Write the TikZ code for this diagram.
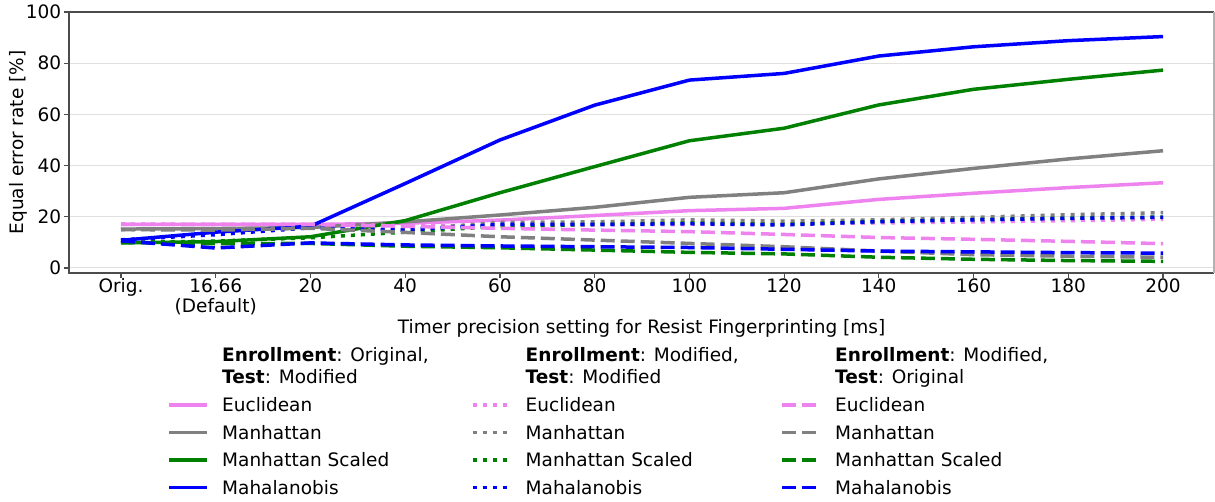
\documentclass[tikz,border=0pt]{standalone}
\usepackage{fontspec}
\setmainfont{DejaVu Sans}
\usetikzlibrary{positioning}

\definecolor{eucl}{HTML}{EE82EE}
\definecolor{manh}{HTML}{808080}
\definecolor{mscl}{HTML}{008000}
\definecolor{maha}{HTML}{0000FF}

\begin{document}
\begin{tikzpicture}[
    x=1pt, y=1pt,
    font=\fontsize{18.5}{22.2}\selectfont,
    series/.style={line width=3.5pt, line join=round},
    dotline/.style={series, dash pattern=on 4pt off 6pt},
    dashline/.style={series, dash pattern=on 14pt off 6pt},
    gridline/.style={draw=black!12, line width=1pt},
    spine/.style={draw=black!70, line width=1.4pt},
    tickmark/.style={draw=black!70, line width=1.2pt},
    ticklab/.style={inner sep=0pt, anchor=base},
    legtext/.style={inner sep=0pt, anchor=base west}
]
\useasboundingbox (0,0) rectangle (1215,502);
\fill[white] (0,0) rectangle (1215,502);

% Axes, in data coordinates
\begin{scope}[shift={(121pt,234pt)}, x=94.73pt, y=2.56pt]
  % grid
  \foreach \v in {0,20,...,100}
    \draw[gridline] (-0.55,\v) -- (11.54,\v);

  % Enrollment: Original, Test: Modified
  \draw[series, eucl] plot coordinates {(0,17) (1,17) (2,17) (3,17.5) (4,18.7) (5,20.5) (6,22.4) (7,23.3) (8,26.8) (9,29.2) (10,31.4) (11,33.3)};
  \draw[series, manh] plot coordinates {(0,15.2) (1,15.4) (2,15.8) (3,18) (4,20.7) (5,23.7) (6,27.6) (7,29.4) (8,34.8) (9,38.9) (10,42.6) (11,45.8)};
  \draw[series, mscl] plot coordinates {(0,9.8) (1,10.3) (2,12.2) (3,18.5) (4,29.4) (5,39.6) (6,49.7) (7,54.6) (8,63.7) (9,69.8) (10,73.7) (11,77.3)};
  \draw[series, maha] plot coordinates {(0,10.8) (1,14) (2,16.3) (3,33) (4,50) (5,63.6) (6,73.4) (7,76) (8,82.8) (9,86.4) (10,88.8) (11,90.4)};

  % Enrollment: Modified, Test: Modified
  \draw[dotline, eucl] plot coordinates {(0,17.2) (1,17) (2,17) (3,16.6) (4,16.4) (5,16.8) (6,17) (7,17.2) (8,17.6) (9,18) (10,18.5) (11,19)};
  \draw[dotline, manh] plot coordinates {(0,15) (1,15.2) (2,15.6) (3,15) (4,17.8) (5,18) (6,18.8) (7,18.3) (8,18.8) (9,19.8) (10,20.8) (11,21.6)};
  \draw[dotline, mscl] plot coordinates {(0,10) (1,10.5) (2,11.8) (3,14) (4,16.3) (5,17) (6,17.6) (7,17) (8,18.2) (9,18.9) (10,19.5) (11,19.9)};
  \draw[dotline, maha] plot coordinates {(0,11) (1,13) (2,15.7) (3,14.8) (4,17) (5,17) (6,17.3) (7,16.8) (8,18.1) (9,18.8) (10,19.4) (11,19.8)};

  % Enrollment: Modified, Test: Original
  \draw[dashline, eucl] plot coordinates {(0,17) (1,17) (2,17) (3,16.3) (4,15.5) (5,14.8) (6,14.2) (7,13.1) (8,11.9) (9,11.2) (10,10.4) (11,9.5)};
  \draw[dashline, manh] plot coordinates {(0,15) (1,14.8) (2,15.5) (3,13.9) (4,12.2) (5,10.9) (6,9.6) (7,8.3) (8,6.6) (9,5.2) (10,4.6) (11,4.2)};
  \draw[dashline, mscl] plot coordinates {(0,10) (1,9.5) (2,9.6) (3,8.5) (4,7.9) (5,7) (6,6.1) (7,5.5) (8,4.2) (9,3.4) (10,2.9) (11,2.6)};
  \draw[dashline, maha] plot coordinates {(0,10.6) (1,7.8) (2,9.8) (3,9) (4,8.6) (5,8.3) (6,8) (7,7.3) (8,6.6) (9,6.3) (10,6) (11,5.8)};

  % frame
  \draw[spine] (-0.55,100) -- (-0.55,-2) -- (11.54,-2);
  \draw[spine] (-0.55,100) -- (11.54,100);
  \draw[spine, draw=black!30] (11.54,100) -- (11.54,-2);

  % y ticks
  \foreach \v in {0,20,...,100} {
    \coordinate (yt\v) at (-0.55,\v);
    \draw[tickmark] (yt\v) -- ++(-5pt,0);
    \node[inner sep=0pt, anchor=east] (yl\v) at ([xshift=-7.5pt]yt\v) {\v};
  }

  % x ticks
  \foreach \lab [count=\i from 0] in {Orig.,16.66,20,40,60,80,100,120,140,160,180,200} {
    \coordinate (xt\i) at (\i,-2);
    \draw[tickmark] (xt\i) -- ++(0,-5pt);
    \node[ticklab] (xl\i) at ([yshift=-19.4pt]xt\i) {\lab};
  }
  \node[ticklab] (xdef) at ([yshift=-19.5pt]xl1.base) {(Default)};

  % axis labels
  \coordinate (xmid) at (5.495,-2);
  \coordinate (ymid) at (-0.55,49);
  \node[ticklab] (xlabel) at ([yshift=-60.4pt]xmid) {Timer precision setting for Resist Fingerprinting [ms]};
  \node[ticklab, rotate=90] (ylabel) at ([xshift=-44.9pt]ymid) {Equal error rate [\%]};
\end{scope}

% Legend
\node[legtext] (h1a) at (222,140.3) {\textbf{Enrollment}: Original,};
\node[legtext] (h1b) at (222,118.7) {\textbf{Test}: Modified};
\node[legtext] (h2a) at (525.5,140.3) {\textbf{Enrollment}: Modified,};
\node[legtext] (h2b) at (525.5,118.7) {\textbf{Test}: Modified};
\node[legtext] (h3a) at (835,140.3) {\textbf{Enrollment}: Modified,};
\node[legtext] (h3b) at (835,118.7) {\textbf{Test}: Original};

\foreach \cx/\sty [count=\c] in {222/series, 525.5/dotline, 835/dashline} {
  \foreach \lab/\col [count=\k] in {Euclidean/eucl, Manhattan/manh, Manhattan Scaled/mscl, Mahalanobis/maha} {
    \node[legtext] (l\c\k) at (\cx, 117.8-27.5*\k) {\lab};
    \draw[\sty, \col] ([xshift=-53pt, yshift=6.6pt]l\c\k.base west) -- ++(38,0);
  }
}

\end{tikzpicture}
\end{document}
